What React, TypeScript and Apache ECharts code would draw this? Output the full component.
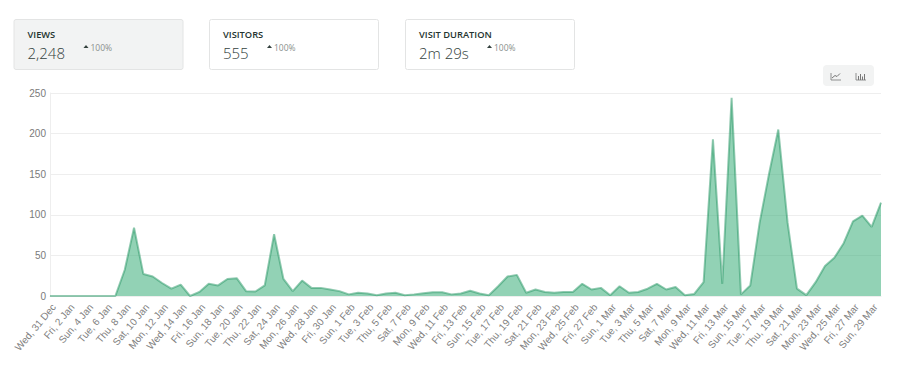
import React, { useEffect, useRef } from "react";
import * as echarts from "echarts";

const startDate = ["Wed, 31 Dec"];
const weekdays = ["Thu", "Fri", "Sat", "Sun", "Mon", "Tue", "Wed"];
const monthLengths: [string, number][] = [["Jan", 31], ["Feb", 28], ["Mar", 30]];
const views = [
  0, 0, 0, 0, 0, 0, 0, 0, 32, 84,
  27, 24, 16, 9, 14, 0, 5, 15, 13, 21,
  22, 6, 5.5, 13, 76, 21, 6, 19, 10, 10,
  8, 6, 2, 4, 3, 1, 3, 4, 1, 2,
  3.5, 4.5, 4.5, 2, 3, 6.5, 3, 1, 12, 24,
  26, 4, 8, 5, 4, 5, 5, 15, 8, 10,
  1, 12, 4, 5, 9, 15, 8, 11, 1, 2.5,
  17, 193, 15, 244, 2, 13, 90, 150, 205, 90,
  9, 1, 17, 37, 47, 65, 92, 99, 85, 115,
];
const yTicks = [0, 50, 100, 150, 200, 250];
const cardTitles = ["VIEWS", "VISITORS", "VISIT DURATION"];
const cardValues = ["2,248", "555", "2m 29s"];
const cardChanges = ["100%", "100%", "100%"];

function buildCategories(): string[] {
  const out = [...startDate];
  let w = 0;
  for (const [m, n] of monthLengths) {
    for (let d = 1; d <= n; d++) {
      out.push(`${weekdays[w % 7]}, ${d} ${m}`);
      w++;
    }
  }
  return out;
}

const FONT = '"Open Sans", sans-serif';

export default function App() {
  const ref = useRef<HTMLDivElement>(null);
  useEffect(() => {
    document.body.style.margin = "0";
    const chart = echarts.init(ref.current!, undefined, { renderer: "svg" });
    const cardX = [14, 209.5, 405.5];
    const valueW = [37, 25, 49];
    const cards: any[] = [];
    cardTitles.forEach((t, i) => {
      const x = cardX[i];
      cards.push({
        type: "rect",
        shape: { x: x, y: 19.5, width: 169, height: 50, r: 2 },
        style: { fill: i === 0 ? "#f2f3f3" : "#fff", stroke: "#e3e4e4", lineWidth: 1 },
      });
      cards.push({
        type: "text", x: x + 13.5, y: 30,
        style: { text: t, font: `600 9.3px ${FONT}`, fill: "#24332f" },
      });
      cards.push({
        type: "text", x: x + 13.5, y: 45,
        style: { text: cardValues[i], font: `300 15px ${FONT}`, fill: "#33413d" },
      });
      const tx = x + 13.5 + valueW[i] + 19;
      cards.push({
        type: "polygon",
        shape: { points: [[tx, 48], [tx + 5, 48], [tx + 2.5, 45]] },
        style: { fill: "#33413d" },
      });
      cards.push({
        type: "text", x: tx + 7, y: 42.5,
        style: { text: cardChanges[i], font: `400 8.5px ${FONT}`, fill: "#8a8f8e" },
      });
    });
    const ic = "#777";
    const icons: any[] = [
      { type: "rect", shape: { x: 823, y: 65, width: 51, height: 21, r: 4 }, style: { fill: "#f2f3f3" } },
      { type: "polyline", shape: { points: [[831, 73], [831, 80], [841, 80]] }, style: { stroke: ic, fill: "none", lineWidth: 0.8 } },
      { type: "polyline", shape: { points: [[832, 78], [835, 75.5], [837, 76.5], [840, 73.5]] }, style: { stroke: ic, fill: "none", lineWidth: 1 } },
      { type: "polyline", shape: { points: [[856, 73], [856, 80], [866, 80]] }, style: { stroke: ic, fill: "none", lineWidth: 0.8 } },
      { type: "rect", shape: { x: 858, y: 76, width: 1, height: 4 }, style: { fill: ic } },
      { type: "rect", shape: { x: 860, y: 74, width: 1, height: 6 }, style: { fill: ic } },
      { type: "rect", shape: { x: 862, y: 76.5, width: 1, height: 3.5 }, style: { fill: ic } },
      { type: "rect", shape: { x: 864, y: 74, width: 1, height: 6 }, style: { fill: ic } },
    ];
    chart.setOption({
      animation: false,
      grid: { left: 50, right: 19, top: 93, bottom: 94, containLabel: false },
      xAxis: {
        type: "category",
        boundaryGap: false,
        data: buildCategories(),
        axisLine: { show: true, lineStyle: { color: "#eeeeee" } },
        axisTick: { show: false },
        splitLine: { show: false },
        axisLabel: {
          interval: 1,
          rotate: 50,
          color: "#808080",
          fontSize: 10,
          fontFamily: "Liberation Sans",
          margin: 6,
          verticalAlign: "top",
          hideOverlap: false,
        },
      },
      yAxis: {
        type: "value",
        min: yTicks[0],
        max: yTicks[yTicks.length - 1],
        interval: yTicks[1] - yTicks[0],
        axisLine: { show: true, lineStyle: { color: "#eeeeee" } },
        axisTick: { show: false },
        splitLine: { show: true, lineStyle: { color: "#eeeeee", width: 1 } },
        axisLabel: { color: "#7a7a7a", fontSize: 10, fontFamily: "Liberation Sans", margin: 4 },
      },
      series: [
        {
          type: "line",
          data: views,
          showSymbol: false,
          smooth: false,
          lineStyle: { color: "rgba(38,150,100,0.5)", width: 2 },
          areaStyle: { color: "rgba(38,166,107,0.5)", opacity: 1 },
        },
      ],
      graphic: [...cards, ...icons].map((e) => ({ ...e, silent: true })),
    });
    return () => chart.dispose();
  }, []);
  return <div ref={ref} style={{ position: "absolute", left: 0, top: 0, width: 900, height: 390 }} />;
}
